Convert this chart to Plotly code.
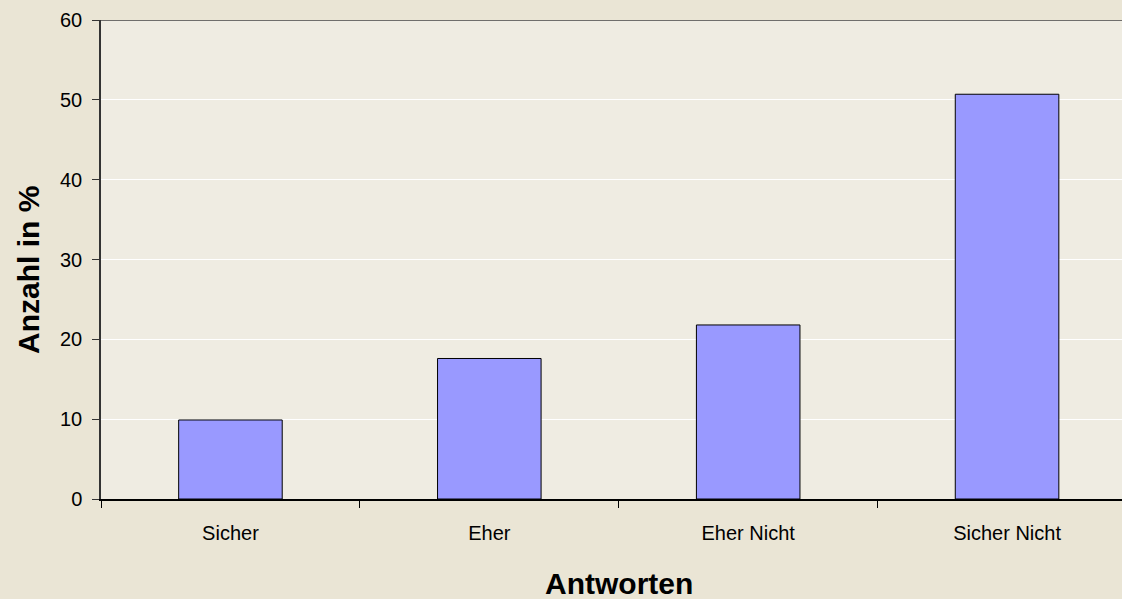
import plotly.graph_objects as go

categories = ["Sicher", "Eher", "Eher Nicht", "Sicher Nicht"]
values = [9.9, 17.6, 21.8, 50.7]
y_ticks = [0, 10, 20, 30, 40, 50, 60]

fig = go.Figure(go.Bar(
    x=categories, y=values, width=0.4,
    marker=dict(color="#9999FF", line=dict(color="#000000", width=1)),
))

fig.update_layout(
    width=1122, height=599,
    margin=dict(l=101, r=0, t=20, b=100),
    paper_bgcolor="#EAE5D5",
    plot_bgcolor="#EFECE2",
    font=dict(family="Liberation Sans, Arial", size=20, color="#000000"),
    showlegend=False,
)
fig.update_xaxes(
    range=[-0.5, 3.444], type="category",
    showline=True, linecolor="#000000", linewidth=1.5,
    ticks="outside", tickson="boundaries", ticklen=7, tickcolor="#000000",
    ticklabelstandoff=15,
    showgrid=False,
)
fig.update_yaxes(
    range=[0, 60], tickvals=y_ticks,
    showline=True, linecolor="#333333", linewidth=1.5,
    ticks="outside", ticklen=7, tickcolor="#333333",
    ticklabelstandoff=6,
    showgrid=True, gridcolor="#FFFFFF", gridwidth=1,
    zeroline=False,
)
fig.add_annotation(text="<b>Antworten</b>", xref="paper", yref="paper",
                   x=0.5073, y=-0.1754, xanchor="center", yanchor="middle",
                   showarrow=False, font=dict(size=30))
fig.add_annotation(text="<b>Anzahl in %</b>", xref="paper", yref="paper",
                   x=-0.0715, y=0.478, xanchor="center", yanchor="middle",
                   textangle=-90, showarrow=False, font=dict(size=30))
# top border line at 60
fig.add_shape(type="line", xref="paper", yref="y", x0=0, x1=1, y0=60, y1=60,
              line=dict(color="#444444", width=1.5))

fig.write_html("out.html", config={"displayModeBar": False},
               post_script="document.body.style.margin='0';")
